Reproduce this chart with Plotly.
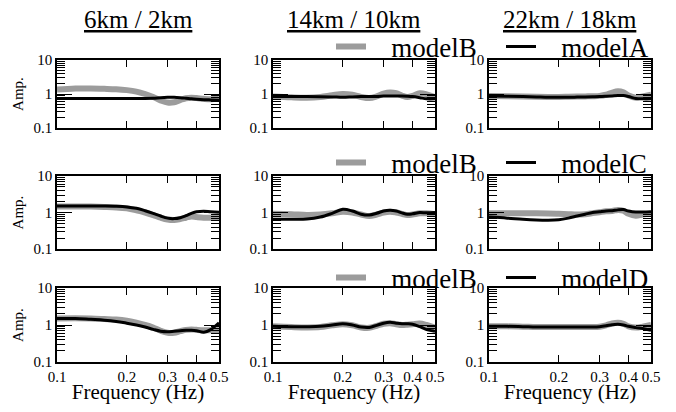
import plotly.graph_objects as go
from plotly.subplots import make_subplots

# ---- data ----
freq = [0.10, 0.12, 0.14, 0.16, 0.18, 0.20, 0.22, 0.24, 0.26, 0.28, 0.30,
        0.32, 0.34, 0.36, 0.38, 0.40, 0.43, 0.46, 0.50]

col_titles = ["6km / 2km", "14km / 10km", "22km / 18km"]
row_models = ["modelA", "modelC", "modelD"]
ref_model = "modelB"

# row 1: modelB vs modelA
r1_B = [[1.35, 1.45, 1.45, 1.42, 1.38, 1.30, 1.18, 1.00, 0.82, 0.65, 0.56, 0.57, 0.66, 0.75, 0.78, 0.76, 0.72, 0.70, 0.72],
        [0.85, 0.80, 0.78, 0.82, 0.92, 1.00, 0.95, 0.82, 0.76, 0.85, 1.02, 1.10, 1.05, 0.90, 0.82, 0.88, 1.05, 0.98, 0.80],
        [0.88, 0.86, 0.84, 0.83, 0.82, 0.82, 0.83, 0.84, 0.85, 0.86, 0.88, 0.95, 1.10, 1.20, 1.12, 0.90, 0.78, 0.85, 0.95]]
r1_M = [[0.74, 0.74, 0.74, 0.74, 0.74, 0.74, 0.74, 0.74, 0.75, 0.78, 0.80, 0.80, 0.78, 0.75, 0.72, 0.70, 0.68, 0.67, 0.66],
        [0.85, 0.85, 0.84, 0.83, 0.82, 0.80, 0.82, 0.84, 0.85, 0.85, 0.87, 0.88, 0.87, 0.87, 0.86, 0.84, 0.78, 0.72, 0.72],
        [0.88, 0.86, 0.84, 0.82, 0.80, 0.80, 0.80, 0.81, 0.82, 0.83, 0.84, 0.86, 0.88, 0.90, 0.90, 0.84, 0.74, 0.72, 0.72]]
# row 2: modelB vs modelC
r2_B = [[1.45, 1.45, 1.45, 1.42, 1.38, 1.30, 1.15, 1.00, 0.85, 0.72, 0.64, 0.62, 0.66, 0.72, 0.78, 0.75, 0.72, 0.72, 0.72],
        [0.92, 0.90, 0.86, 0.88, 0.95, 1.05, 1.00, 0.88, 0.80, 0.88, 1.00, 1.05, 1.00, 0.92, 0.85, 0.88, 0.95, 0.95, 0.90],
        [0.95, 0.95, 0.95, 0.95, 0.94, 0.92, 0.90, 0.88, 0.90, 0.96, 1.02, 1.08, 1.10, 1.18, 1.12, 0.92, 0.82, 0.88, 0.92]]
r2_M = [[1.50, 1.50, 1.50, 1.50, 1.48, 1.42, 1.30, 1.12, 0.95, 0.80, 0.70, 0.68, 0.72, 0.82, 0.95, 1.05, 1.08, 1.05, 1.02],
        [0.65, 0.65, 0.66, 0.75, 0.95, 1.22, 1.10, 0.90, 0.85, 0.95, 1.10, 1.15, 1.10, 0.98, 0.90, 0.92, 1.00, 0.98, 1.00],
        [0.75, 0.70, 0.65, 0.62, 0.61, 0.63, 0.70, 0.80, 0.90, 1.00, 1.05, 1.10, 1.12, 1.18, 1.20, 1.10, 1.03, 1.03, 1.05]]
# row 3: modelB vs modelD
r3_B = [[1.50, 1.52, 1.50, 1.45, 1.40, 1.30, 1.15, 1.00, 0.85, 0.70, 0.62, 0.62, 0.68, 0.74, 0.76, 0.74, 0.72, 0.72, 0.72],
        [0.92, 0.88, 0.86, 0.88, 0.98, 1.05, 0.98, 0.86, 0.84, 0.95, 1.08, 1.12, 1.05, 1.00, 1.02, 1.05, 1.10, 1.00, 0.85],
        [0.92, 0.92, 0.90, 0.88, 0.88, 0.88, 0.88, 0.88, 0.88, 0.88, 0.90, 0.98, 1.10, 1.15, 1.08, 0.92, 0.85, 0.90, 1.00]]
r3_M = [[1.50, 1.50, 1.42, 1.35, 1.25, 1.12, 1.00, 0.88, 0.76, 0.68, 0.66, 0.68, 0.70, 0.72, 0.72, 0.70, 0.64, 0.75, 1.15],
        [0.92, 0.90, 0.90, 0.92, 1.00, 1.08, 1.00, 0.88, 0.86, 0.98, 1.12, 1.18, 1.12, 1.08, 1.08, 1.05, 0.90, 0.75, 0.68],
        [0.92, 0.92, 0.90, 0.88, 0.88, 0.88, 0.88, 0.88, 0.88, 0.88, 0.90, 0.95, 1.02, 1.05, 1.00, 0.92, 0.85, 0.80, 0.72]]

rows_B = [r1_B, r2_B, r3_B]
rows_M = [r1_M, r2_M, r3_M]

x_ticks = [0.1, 0.2, 0.3, 0.4, 0.5]
x_ticklabels = ["0.1", "0.2", "0.3", "0.4", "0.5"]
y_ticks = [0.1, 1, 10]
y_ticklabels = ["0.1", "1", "10"]

# ---- layout geometry (page pixels; the page body adds an 8px margin) ----
PAGE_W, PAGE_H, OFF = 676, 412, 8
W, H = PAGE_W - 2 * OFF, PAGE_H - 2 * OFF
col_px = [(57, 219), (273, 435), (489, 651)]
row_px = [(60, 128), (176, 249), (288, 362)]
legend_y_px = [47, 163, 278]
legend_x_px = 331
title_y_px = 20

def fx(p):
    return (p - OFF) / W

def fy(p):
    return 1 - (p - OFF) / H

FONT = "Liberation Serif"
GRAY = "#9c9c9c"
PAD = "\u00a0\u00a0\u00a0"

fig = make_subplots(rows=3, cols=3)
legend_names = ["legend", "legend2", "legend3"]

for r in range(3):
    for c in range(3):
        fig.add_trace(go.Scatter(x=freq, y=rows_B[r][c], mode="lines", name=PAD + ref_model,
                                 line=dict(color=GRAY, width=6, shape="spline"),
                                 legend=legend_names[r], showlegend=(c == 0)),
                      row=r + 1, col=c + 1)
        fig.add_trace(go.Scatter(x=freq, y=rows_M[r][c], mode="lines", name=PAD + row_models[r],
                                 line=dict(color="black", width=3, shape="spline"),
                                 legend=legend_names[r], showlegend=(c == 0)),
                      row=r + 1, col=c + 1)

for r in range(3):
    for c in range(3):
        n = r * 3 + c + 1
        xa = "xaxis" if n == 1 else f"xaxis{n}"
        ya = "yaxis" if n == 1 else f"yaxis{n}"
        x0, x1 = col_px[c]
        y0, y1 = row_px[r]
        fig.layout[xa].update(
            type="log", range=[-1, -0.30103], domain=[fx(x0), fx(x1)],
            tickvals=x_ticks, ticktext=x_ticklabels, showticklabels=(r == 2),
            tickangle=0, automargin=False,
            ticks="inside", ticklen=7, tickwidth=1, tickcolor="black",
            showline=True, linecolor="black", linewidth=1.5, mirror="allticks",
            showgrid=False, zeroline=False,
            tickfont=dict(family=FONT, size=15, color="black"),
            title=dict(text="Frequency (Hz)" if r == 2 else "",
                       font=dict(family=FONT, size=21, color="black"), standoff=0),
        )
        fig.layout[ya].update(
            type="log", range=[-1, 1], domain=[fy(y1), fy(y0)],
            tickvals=y_ticks, ticktext=y_ticklabels, automargin=False,
            ticks="inside", ticklen=15, tickwidth=1, tickcolor="black",
            minor=dict(ticks="inside", ticklen=8, tickwidth=1, tickcolor="black",
                       dtick="D1", showgrid=False),
            showline=True, linecolor="black", linewidth=1.5, mirror="allticks",
            showgrid=False, zeroline=False,
            tickfont=dict(family=FONT, size=15, color="black"),
            title=dict(text="Amp." if c == 0 else "",
                       font=dict(family=FONT, size=15, color="black"), standoff=6),
        )

annotations = []
for c in range(3):
    x0, x1 = col_px[c]
    annotations.append(dict(text=f"<u>{col_titles[c]}</u>", x=fx((x0 + x1) / 2), y=fy(title_y_px),
                            xref="paper", yref="paper", showarrow=False,
                            xanchor="center", yanchor="middle",
                            font=dict(family=FONT, size=25, color="black")))

legend_common = dict(orientation="h", bgcolor="rgba(0,0,0,0)", borderwidth=0,
                     font=dict(family=FONT, size=27, color="black"),
                     xanchor="left", yanchor="middle", entrywidth=125,
                     itemsizing="trace")
fig.update_layout(
    width=W, height=H, margin=dict(l=0, r=0, t=0, b=0, autoexpand=False),
    paper_bgcolor="white", plot_bgcolor="white",
    annotations=annotations,
    legend=dict(x=fx(legend_x_px), y=fy(legend_y_px[0]), **legend_common),
    legend2=dict(x=fx(legend_x_px), y=fy(legend_y_px[1]), **legend_common),
    legend3=dict(x=fx(legend_x_px), y=fy(legend_y_px[2]), **legend_common),
)

fig.write_html("out.html")
